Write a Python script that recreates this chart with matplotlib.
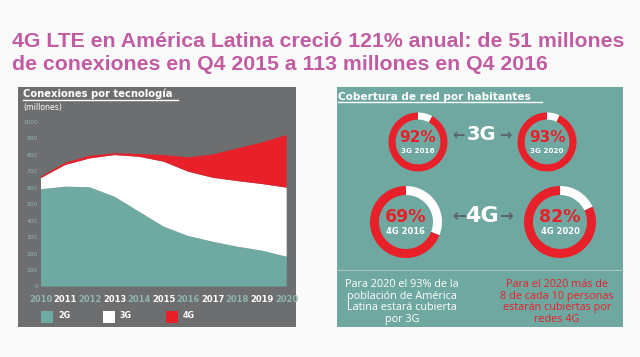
import matplotlib
matplotlib.use('Agg')
import matplotlib.pyplot as plt
from matplotlib.patches import Rectangle
from matplotlib.lines import Line2D

# ---------------- data ----------------
years = list(range(2010, 2021))
conn_2g = [591, 607, 603, 546, 455, 364, 307, 272, 242, 218, 181]
conn_3g = [67, 132, 176, 253, 334, 395, 391, 389, 399, 405, 420]
conn_4g = [9, 14, 16, 11, 16, 40, 87, 142, 199, 253, 320]
series_labels = ['2G', '3G', '4G']
y_ticks = [0, 100, 200, 300, 400, 500, 600, 700, 800, 900, 1000]

coverage_pct = [92, 93, 69, 82]
coverage_labels = ['3G 2016', '3G 2020', '4G 2016', '4G 2020']
tech_labels = ['3G', '4G']

title_lines = ['4G LTE en América Latina creció 121% anual: de 51 millones',
               'de conexiones en Q4 2015 a 113 millones en Q4 2016']
left_title = 'Conexiones por tecnología'
left_sub = '(millones)'
right_title = 'Cobertura de red por habitantes'
note_3g = 'Para 2020 el 93% de la\npoblación de América\nLatina estará cubierta\npor 3G'
note_4g = 'Para el 2020 más de\n8 de cada 10 personas\nestarán cubiertas por\nredes 4G'

# ---------------- style ----------------
W, H = 640, 357
BG = '#fbfafb'
GRAY = '#6d6e70'
TEAL = '#6eaaa2'
PANEL_TEAL = '#6ea8a0'
RED = '#e8202a'
PINK = '#c15ca2'
FADED = '#8fb5b0'
ARROW = '#5c6567'

fig = plt.figure(figsize=(6.4, 3.57), dpi=100)
fig.patch.set_facecolor(BG)


def rect(x0, y0, x1, y1):
    return [x0 / W, 1 - y1 / H, (x1 - x0) / W, (y1 - y0) / H]


def fx(x):
    return x / W


def fy(y):
    return 1 - y / H


def panel(x0, y0, x1, y1, color):
    fig.add_artist(Rectangle((fx(x0), fy(y1)), (x1 - x0) / W, (y1 - y0) / H,
                             transform=fig.transFigure, color=color, zorder=0, lw=0))


def underline(x0, x1, y, color='white', lw=1.0):
    fig.add_artist(Line2D([fx(x0), fx(x1)], [fy(y), fy(y)], transform=fig.transFigure,
                          color=color, lw=lw))


# ---------------- title ----------------
fig.text(fx(12), fy(47), title_lines[0], color=PINK, fontsize=15.3, fontweight='bold',
         family='Liberation Sans', va='baseline', ha='left')
fig.text(fx(12), fy(70), title_lines[1], color=PINK, fontsize=15.3, fontweight='bold',
         family='Liberation Sans', va='baseline', ha='left')

# ---------------- left panel ----------------
panel(18, 87, 296, 327, GRAY)
fig.text(fx(23), fy(97.5), left_title, color='white', fontsize=7.2, fontweight='bold',
         family='DejaVu Sans', va='baseline', ha='left')
underline(23, 178, 99.5)
fig.text(fx(23), fy(110), left_sub, color='white', fontsize=5.6,
         family='DejaVu Sans', va='baseline', ha='left')

ax = fig.add_axes(rect(40.7, 122, 286.7, 286.5))
ax.set_facecolor('none')
ax.stackplot(years, conn_2g, conn_3g, conn_4g, colors=[TEAL, 'white', RED],
             labels=series_labels, lw=0)
ax.set_xlim(years[0], years[-1])
ax.set_ylim(0, 1000)
for s in ax.spines.values():
    s.set_visible(False)
ax.set_yticks(y_ticks)
ax.set_yticklabels([str(v) for v in y_ticks], fontsize=4.2, color=FADED)
ax.tick_params(axis='y', length=0, pad=2)
ax.set_xticks(years)
ax.set_xticklabels([str(y) for y in years], fontsize=6, fontweight='bold',
                   family='DejaVu Sans')
for i, lab in enumerate(ax.get_xticklabels()):
    lab.set_color('white' if i % 2 == 1 else FADED)
ax.tick_params(axis='x', length=0, pad=6)

# legend (manual squares)
leg_colors = [TEAL, 'white', RED]
leg_x = [41, 103, 166]
for lab, col, x0 in zip(series_labels, leg_colors, leg_x):
    fig.add_artist(Rectangle((fx(x0), fy(323)), 12 / W, 12 / H, transform=fig.transFigure,
                             color=col, lw=0))
    fig.text(fx(x0 + 17), fy(315), lab, color='white', fontsize=5.8, fontweight='bold',
             family='DejaVu Sans', va='center', ha='left')

# ---------------- right panel ----------------
panel(337, 87, 623, 327, PANEL_TEAL)
fig.text(fx(338), fy(99.5), right_title, color='white', fontsize=7.6, fontweight='bold',
         family='DejaVu Sans', va='baseline', ha='left')
underline(338, 542, 102)
fig.add_artist(Line2D([fx(337), fx(623)], [fy(270), fy(270)], transform=fig.transFigure,
                      color='#a8cbc6', lw=0.7))

donut_geo = [(418, 142, 29.5, 0.24), (547, 142, 29.5, 0.24),
             (406, 222, 36, 0.25), (560, 222, 36, 0.25)]
for pct, lab, (cx, cy, r, wd) in zip(coverage_pct, coverage_labels, donut_geo):
    dax = fig.add_axes(rect(cx - r, cy - r, cx + r, cy + r))
    dax.pie([100 - pct, pct], colors=['white', RED], startangle=90, counterclock=False,
            wedgeprops=dict(width=wd, linewidth=0))
    dax.set_xlim(-1, 1)
    dax.set_ylim(-1, 1)
    dax.set_aspect('equal')
    dax.axis('off')
    big = 11 if r < 33 else 12.5
    fig.text(fx(cx), fy(cy - 5), f'{pct}%', color=RED, fontsize=big, fontweight='bold',
             family='DejaVu Sans', ha='center', va='center')
    fig.text(fx(cx), fy(cy + 8.5 if r < 33 else cy + 10), lab, color='white',
             fontsize=5.2 if r < 33 else 6, fontweight='bold',
             family='DejaVu Sans', ha='center', va='center')

# tech labels with arrows
for lab, (cx, cy, fs) in zip(tech_labels, [(481, 135, 14), (482, 216, 16)]):
    fig.text(fx(cx), fy(cy), lab, color='white', fontsize=fs, fontweight='bold',
             family='DejaVu Sans', ha='center', va='center')
    fig.text(fx(cx - 23), fy(cy), '←', color=ARROW, fontsize=fs * 0.75, fontweight='bold',
             family='DejaVu Sans', ha='center', va='center')
    fig.text(fx(cx + 24), fy(cy), '→', color=ARROW, fontsize=fs * 0.75, fontweight='bold',
             family='DejaVu Sans', ha='center', va='center')

fig.text(fx(402), fy(302), note_3g, color='white', fontsize=7.8, family='Open Sans',
         ha='center', va='center', linespacing=1.05)
fig.text(fx(557), fy(302), note_4g, color=RED, fontsize=7.8, family='Open Sans',
         ha='center', va='center', linespacing=1.05)

fig.savefig('out.png', dpi=100, facecolor=fig.get_facecolor())
